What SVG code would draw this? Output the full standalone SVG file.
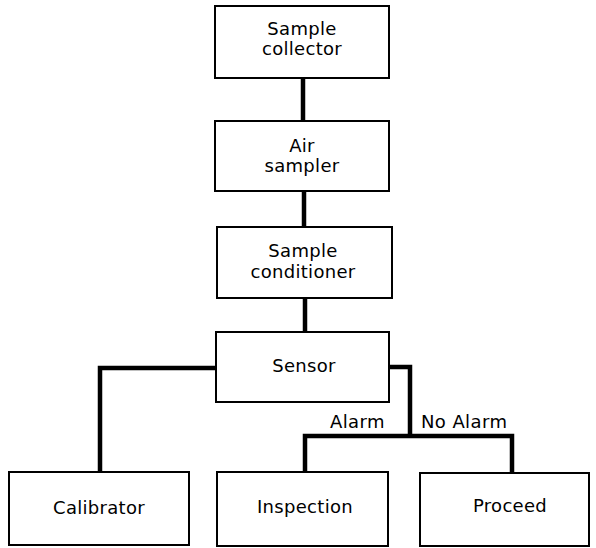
<svg xmlns="http://www.w3.org/2000/svg" width="596" height="548" viewBox="0 0 596 548">
<style>
.box{fill:#fff;stroke:#000;stroke-width:2}
.t{font-family:"DejaVu Sans",sans-serif;font-size:18px;fill:#000;text-anchor:middle;letter-spacing:0.3px}
.l{font-family:"DejaVu Sans",sans-serif;font-size:18px;fill:#000;letter-spacing:0.4px}
.c{fill:none;stroke:#000;stroke-width:4.5;stroke-linejoin:miter}
</style>
<rect width="596" height="548" fill="#fff"/>
<g id="connectors">
<line class="c" x1="303" y1="78" x2="303" y2="121"/>
<line class="c" x1="304" y1="191" x2="304" y2="227"/>
<line class="c" x1="305" y1="298" x2="305" y2="332"/>
<polyline class="c" points="216,368 100,368 100,472"/>
<polyline class="c" points="389,367 410,367 410,436"/>
<polyline class="c" points="305,472 305,436 512,436 512,473"/>
<text class="l" x="330" y="428">Alarm</text>
<text class="l" x="421" y="428">No Alarm</text>
</g>
<g id="sample-collector">
<rect class="box" x="215" y="6" width="174" height="72"/>
<text class="t" x="302" y="35">Sample</text>
<text class="t" x="302" y="55">collector</text>
</g>
<g id="air-sampler">
<rect class="box" x="215" y="121" width="174" height="70"/>
<text class="t" x="302" y="152">Air</text>
<text class="t" x="302" y="172">sampler</text>
</g>
<g id="sample-conditioner">
<rect class="box" x="217" y="227" width="175" height="71"/>
<text class="t" x="303" y="257">Sample</text>
<text class="t" x="303" y="278">conditioner</text>
</g>
<g id="sensor">
<rect class="box" x="216" y="332" width="173" height="70"/>
<text class="t" x="304" y="372">Sensor</text>
</g>
<g id="calibrator">
<rect class="box" x="9" y="472" width="180" height="73"/>
<text class="t" x="99" y="514">Calibrator</text>
</g>
<g id="inspection">
<rect class="box" x="217" y="472" width="171" height="74"/>
<text class="t" x="305" y="513">Inspection</text>
</g>
<g id="proceed">
<rect class="box" x="420" y="473" width="169" height="73"/>
<text class="t" x="510" y="512">Proceed</text>
</g>
</svg>
